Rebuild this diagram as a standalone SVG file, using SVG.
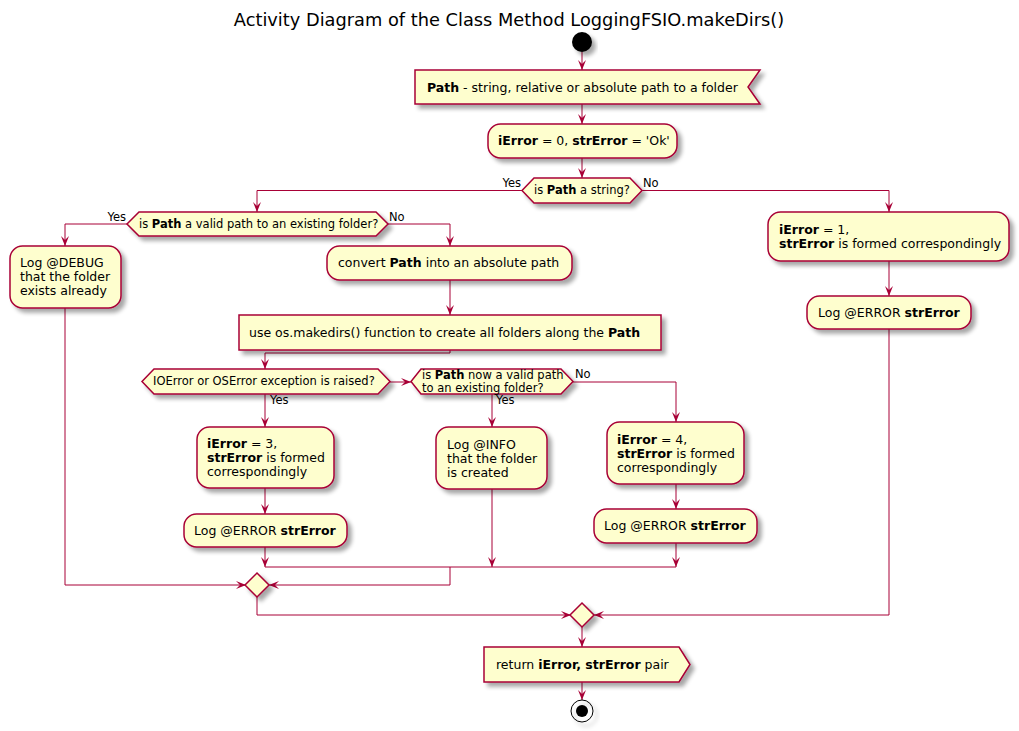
<svg xmlns="http://www.w3.org/2000/svg" width="1019" height="731" viewBox="0 0 1019 731">
<defs>
<filter id="sh" x="-20%" y="-20%" width="150%" height="160%">
<feGaussianBlur in="SourceAlpha" stdDeviation="2"/>
<feOffset dx="4" dy="4" result="b"/>
<feComponentTransfer><feFuncA type="linear" slope="0.35"/></feComponentTransfer>
<feMerge><feMergeNode/><feMergeNode in="SourceGraphic"/></feMerge>
</filter>
<marker id="ah" viewBox="0 0 10 10" refX="10" refY="5" markerWidth="10" markerHeight="10" markerUnits="userSpaceOnUse" orient="auto">
<path d="M0,1 L10,5 L0,9 L4,5 Z" fill="#A80036"/>
</marker>
</defs>
<style>
.n{fill:#FEFECE;stroke:#A80036;stroke-width:1.5;filter:url(#sh)}
.t{font-family:"DejaVu Sans","Liberation Sans",sans-serif;font-size:12.5px;fill:#000}
.d{font-family:"DejaVu Sans","Liberation Sans",sans-serif;font-size:11.5px;fill:#000}
.c{fill:none;stroke:#A80036;stroke-width:1}
.a{fill:none;stroke:#A80036;stroke-width:1;marker-end:url(#ah)}
.b{font-weight:bold}
</style>
<rect width="1019" height="731" fill="#FFFFFF"/>
<text x="509" y="26" text-anchor="middle" font-family="DejaVu Sans, Liberation Sans, sans-serif" font-size="17.8">Activity Diagram of the Class Method LoggingFSIO.makeDirs()</text>

<g id="connectors">
<path class="a" d="M582,52 V70"/>
<path class="a" d="M582,104 V124"/>
<path class="a" d="M582,158 V178"/>
<path class="a" d="M522,190.5 H257 V212"/>
<path class="a" d="M642,190.5 H889 V212"/>
<path class="a" d="M127,224 H65 V246"/>
<path class="a" d="M388,224 H450 V246"/>
<path class="a" d="M450,280 V315"/>
<path class="a" d="M450,350 V353 H265 V369"/>
<path class="a" d="M390,382 H411"/>
<path class="a" d="M265,394 V427"/>
<path class="a" d="M492,394 V427"/>
<path class="a" d="M573,382 H676 V422"/>
<path class="a" d="M265,488 V514"/>
<path class="a" d="M676,484 V509"/>
<path class="a" d="M265,547 V567"/>
<path class="a" d="M492,489 V567"/>
<path class="a" d="M676,543 V567"/>
<path class="c" d="M265,567 H676"/>
<path class="a" d="M450,567 V585 H269"/>
<path class="a" d="M65,308 V585 H246"/>
<path class="a" d="M889,261 V296"/>
<path class="a" d="M257,597 V615 H571"/>
<path class="a" d="M889,329 V615 H594"/>
<path class="a" d="M582,627 V647"/>
<path class="a" d="M582,682 V700"/>
<text class="d" x="521" y="187" text-anchor="end">Yes</text>
<text class="d" x="643" y="187">No</text>
<text class="d" x="126" y="221" text-anchor="end">Yes</text>
<text class="d" x="389" y="221">No</text>
<text class="d" x="270" y="404">Yes</text>
<text class="d" x="496" y="404">Yes</text>
<text class="d" x="575" y="378">No</text>
</g>

<g id="start"><circle cx="582" cy="42" r="10" fill="#000" filter="url(#sh)"/></g>

<g id="input">
<polygon class="n" points="415,70 760,70 748,87 760,104 415,104"/>
<text class="t" x="427" y="92"><tspan class="b">Path</tspan> - string, relative or absolute path to a folder</text>
</g>

<g id="init">
<rect class="n" x="488" y="124" width="189" height="34" rx="12.5"/>
<text class="t" x="498" y="145"><tspan class="b">iError</tspan> = 0, <tspan class="b">strError</tspan> = 'Ok'</text>
</g>

<g id="isString">
<polygon class="n" points="534,178 630,178 642,190.5 630,203 534,203 522,190.5"/>
<text class="d" x="534" y="194">is <tspan class="b">Path</tspan> a string?</text>
</g>

<g id="isValid">
<polygon class="n" points="139,212 376,212 388,224 376,236 139,236 127,224"/>
<text class="d" x="139" y="228">is <tspan class="b">Path</tspan> a valid path to an existing folder?</text>
</g>

<g id="logDebug">
<rect class="n" x="10" y="246" width="111" height="62" rx="12.5"/>
<text class="t" x="20" y="267">Log @DEBUG</text>
<text class="t" x="20" y="281">that the folder</text>
<text class="t" x="20" y="295">exists already</text>
</g>

<g id="convert">
<rect class="n" x="327" y="246" width="245" height="34" rx="12.5"/>
<text class="t" x="338" y="267">convert <tspan class="b">Path</tspan> into an absolute path</text>
</g>

<g id="makedirs">
<rect class="n" x="239" y="315" width="422" height="35"/>
<text class="t" x="249" y="337">use os.makedirs() function to create all folders along the <tspan class="b">Path</tspan></text>
</g>

<g id="isException">
<polygon class="n" points="154,369 378,369 390,381.5 378,394 154,394 142,381.5"/>
<text class="d" x="153" y="385">IOError or OSError exception is raised?</text>
</g>

<g id="isNowValid">
<polygon class="n" points="421,369 561,369 573,381.5 561,394 421,394 411,381.5"/>
<text class="d" x="422" y="379">is <tspan class="b">Path</tspan> now a valid path</text>
<text class="d" x="422" y="392">to an existing folder?</text>
</g>

<g id="err3">
<rect class="n" x="197" y="427" width="137" height="61" rx="12.5"/>
<text class="t" x="207" y="448"><tspan class="b">iError</tspan> = 3,</text>
<text class="t" x="207" y="462"><tspan class="b">strError</tspan> is formed</text>
<text class="t" x="207" y="476">correspondingly</text>
</g>

<g id="logErr3">
<rect class="n" x="184" y="514" width="163" height="33" rx="12.5"/>
<text class="t" x="194" y="535">Log @ERROR <tspan class="b">strError</tspan></text>
</g>

<g id="logInfo">
<rect class="n" x="436" y="427" width="111" height="62" rx="12.5"/>
<text class="t" x="447" y="449">Log @INFO</text>
<text class="t" x="447" y="463">that the folder</text>
<text class="t" x="447" y="477">is created</text>
</g>

<g id="err4">
<rect class="n" x="607" y="422" width="137" height="62" rx="12.5"/>
<text class="t" x="617" y="444"><tspan class="b">iError</tspan> = 4,</text>
<text class="t" x="617" y="458"><tspan class="b">strError</tspan> is formed</text>
<text class="t" x="617" y="472">correspondingly</text>
</g>

<g id="logErr4">
<rect class="n" x="594" y="509" width="163" height="34" rx="12.5"/>
<text class="t" x="604" y="530">Log @ERROR <tspan class="b">strError</tspan></text>
</g>

<g id="err1">
<rect class="n" x="768" y="212" width="241" height="49" rx="12.5"/>
<text class="t" x="779" y="234"><tspan class="b">iError</tspan> = 1,</text>
<text class="t" x="779" y="248"><tspan class="b">strError</tspan> is formed correspondingly</text>
</g>

<g id="logErr1">
<rect class="n" x="807" y="296" width="164" height="33" rx="12.5"/>
<text class="t" x="818" y="317">Log @ERROR <tspan class="b">strError</tspan></text>
</g>

<g id="merge1"><polygon class="n" points="257,573 269,585 257,597 245,585"/></g>
<g id="merge2"><polygon class="n" points="582,603 594,615 582,627 570,615"/></g>

<g id="return">
<polygon class="n" points="484,647 679,647 690,664.5 679,682 484,682"/>
<text class="t" x="496" y="669">return <tspan class="b">iError, strError</tspan> pair</text>
</g>

<g id="end">
<circle cx="582" cy="711" r="11" fill="none" stroke="#000" stroke-width="1" filter="url(#sh)"/>
<circle cx="582" cy="711" r="6" fill="#000"/>
</g>
</svg>
